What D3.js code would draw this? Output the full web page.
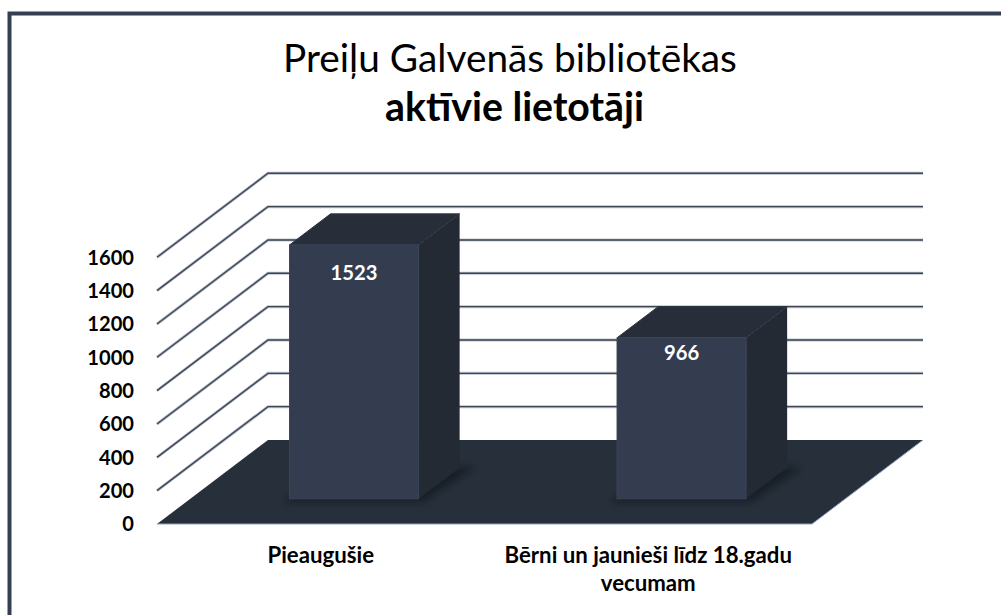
<!DOCTYPE html>
<html>
<head>
<meta charset="utf-8">
<script src="https://d3js.org/d3.v7.min.js"></script>
<style>
  body { margin: 0; background: #fff; }
  svg { display: block; }
</style>
</head>
<body>
<div id="chart"></div>
<script>
////////////////////////////////////////////////////////////////////////
// Data

let categories = ['Pieaugušie', 'Bērni un jaunieši līdz 18.gadu vecumam']
let values = [1523, 966]
let yTicks = [0, 200, 400, 600, 800, 1000, 1200, 1400, 1600]
let titleLines = ['Preiļu Galvenās bibliotēkas', 'aktīvie lietotāji']

////////////////////////////////////////////////////////////////////////
// svg and geometry

let width = 1001
let height = 615
let font = 'Lato, "Open Sans", sans-serif'

let svg = d3
  .select('#chart')
  .append('svg')
  .attr('width', width)
  .attr('height', height)

// front plane of the floor, plus how far the "3d" depth pushes things
let front = { left: 157, right: 812, bottom: 524, top: 257.3 }
let depthX = 111
let depthY = -84
let barDepth = [0.3, 0.67]

let xScale = d3
  .scaleBand()
  .domain(categories)
  .range([front.left, front.right])
  .paddingInner(0.606)
  .paddingOuter(0.303)

let yScale = d3
  .scaleLinear()
  .domain([0, 1600])
  .range([front.bottom, front.top])

// move a front-plane point back into the depth (t from 0 to 1)
function proj (x, y, t) {
  return [x + depthX * t, y + depthY * t]
}

function poly (pts) {
  return pts.map(p => p.join(',')).join(' ')
}

// pick a font size so the text comes out at the width seen in the picture
function fitSize (text, weight, target) {
  let t = svg
    .append('text')
    .attr('font-family', font)
    .attr('font-weight', weight)
    .attr('font-size', 100)
    .text(text)
  let w = t.node().getComputedTextLength()
  t.remove()
  return (100 * target) / w
}

let defs = svg.append('defs')
defs
  .append('filter')
  .attr('id', 'blur')
  .attr('x', '-20%')
  .attr('y', '-20%')
  .attr('width', '140%')
  .attr('height', '140%')
  .append('feGaussianBlur')
  .attr('stdDeviation', 3)

////////////////////////////////////////////////////////////////////////
// frame (only top and left edges are visible in the picture)

svg
  .append('rect')
  .attr('x', 9.5)
  .attr('y', 13.5)
  .attr('width', width + 20)
  .attr('height', height + 20)
  .attr('fill', 'none')
  .attr('stroke', '#353f51')
  .attr('stroke-width', 4)

////////////////////////////////////////////////////////////////////////
// title

let titleSize1 = fitSize(titleLines[0], 400, 454)
let titleSize2 = fitSize(titleLines[1], 700, 259)

svg
  .append('text')
  .attr('x', 510)
  .attr('y', 71.7)
  .attr('text-anchor', 'middle')
  .attr('font-family', font)
  .attr('font-size', titleSize1)
  .attr('fill', '#000')
  .text(titleLines[0])

svg
  .append('text')
  .attr('x', 514.5)
  .attr('y', 121)
  .attr('text-anchor', 'middle')
  .attr('font-family', font)
  .attr('font-weight', 700)
  .attr('font-size', titleSize2)
  .attr('fill', '#000')
  .text(titleLines[1])

////////////////////////////////////////////////////////////////////////
// floor

let floorPts = [
  proj(front.left, front.bottom, 0),
  proj(front.left, front.bottom, 1),
  proj(front.right, front.bottom, 1),
  proj(front.right, front.bottom, 0)
]

svg
  .append('polygon')
  .attr('points', poly(floorPts))
  .attr('fill', '#272f3a')

// thin light edge along the front and right of the floor
svg
  .append('path')
  .attr('d', d3.line()([floorPts[0], floorPts[3], floorPts[2]]))
  .attr('fill', 'none')
  .attr('stroke', '#8ea5c4')
  .attr('stroke-width', 1)

////////////////////////////////////////////////////////////////////////
// gridlines on the side wall and back wall

function gridPath (v) {
  let y = yScale(v)
  return d3.line()([
    proj(front.left, y, 0),
    proj(front.left, y, 1),
    proj(front.right, y, 1)
  ])
}

let grid = svg.append('g').attr('class', 'grid')

grid
  .selectAll('.gridhalo')
  .data(yTicks.filter(v => v > 0))
  .enter()
  .append('path')
  .attr('class', 'gridhalo')
  .attr('d', gridPath)
  .attr('fill', 'none')
  .attr('stroke', '#b9c0ca')
  .attr('stroke-width', 3)

grid
  .selectAll('.gridline')
  .data(yTicks.filter(v => v > 0))
  .enter()
  .append('path')
  .attr('class', 'gridline')
  .attr('d', gridPath)
  .attr('fill', 'none')
  .attr('stroke', '#3e4655')
  .attr('stroke-width', 1.4)

////////////////////////////////////////////////////////////////////////
// y axis labels

let tickSize = fitSize('1600', 700, 46.7)

svg
  .selectAll('.ylabel')
  .data(yTicks)
  .enter()
  .append('text')
  .attr('class', 'ylabel')
  .attr('x', 134)
  .attr('y', d => yScale(d))
  .attr('dy', '0.36em')
  .attr('text-anchor', 'end')
  .attr('font-family', font)
  .attr('font-weight', 700)
  .attr('font-size', tickSize)
  .attr('fill', '#000')
  .text(d => d)

////////////////////////////////////////////////////////////////////////
// bars

let bars = categories.map((c, i) => ({ cat: c, value: values[i] }))
let t0 = barDepth[0]
let t1 = barDepth[1]

let barG = svg
  .selectAll('.bar')
  .data(bars)
  .enter()
  .append('g')
  .attr('class', 'bar')

// soft shadow on the floor
barG
  .append('polygon')
  .attr('points', d => {
    let x0 = xScale(d.cat)
    let x1 = x0 + xScale.bandwidth()
    let yb = yScale(0)
    return poly([
      proj(x0 - 6, yb + 3, t0),
      proj(x1 + 4, yb + 3, t0),
      proj(x1 + 14, yb, t1),
      proj(x0 + 10, yb, t1)
    ])
  })
  .attr('fill', '#10141a')
  .attr('opacity', 0.65)
  .attr('filter', 'url(#blur)')

// side face
barG
  .append('polygon')
  .attr('points', d => {
    let x1 = xScale(d.cat) + xScale.bandwidth()
    let yt = yScale(d.value)
    let yb = yScale(0)
    return poly([proj(x1, yt, t0), proj(x1, yt, t1), proj(x1, yb, t1), proj(x1, yb, t0)])
  })
  .attr('fill', '#232a34')

// top face
barG
  .append('polygon')
  .attr('points', d => {
    let x0 = xScale(d.cat)
    let x1 = x0 + xScale.bandwidth()
    let yt = yScale(d.value)
    return poly([proj(x0, yt, t0), proj(x1, yt, t0), proj(x1, yt, t1), proj(x0, yt, t1)])
  })
  .attr('fill', '#272e39')
  .attr('stroke', '#2e3643')
  .attr('stroke-width', 1)

// front face
barG
  .append('rect')
  .attr('x', d => proj(xScale(d.cat), 0, t0)[0])
  .attr('y', d => proj(0, yScale(d.value), t0)[1])
  .attr('width', xScale.bandwidth())
  .attr('height', d => yScale(0) - yScale(d.value))
  .attr('fill', '#333d4f')
  .attr('stroke', '#3a4558')
  .attr('stroke-width', 1)

// value labels, placed near the top of the front face
let valueSize = fitSize('1523', 700, 47)

barG
  .append('text')
  .attr('x', d => proj(xScale(d.cat) + xScale.bandwidth() / 2, 0, t0)[0])
  .attr('y', d => proj(0, yScale(d.value * 0.86), t0)[1])
  .attr('text-anchor', 'middle')
  .attr('font-family', font)
  .attr('font-weight', 700)
  .attr('font-size', valueSize)
  .attr('fill', '#fff')
  .text(d => d.value)

////////////////////////////////////////////////////////////////////////
// category labels (wrapped)

let catSize = fitSize(categories[0], 700, 106.6)

function wrapWords (text, maxWidth) {
  let words = text.split(' ')
  let lines = []
  let line = ''
  let probe = svg
    .append('text')
    .attr('font-family', font)
    .attr('font-weight', 700)
    .attr('font-size', catSize)
  words.forEach(w => {
    let test = line ? line + ' ' + w : w
    probe.text(test)
    if (probe.node().getComputedTextLength() > maxWidth && line) {
      lines.push(line)
      line = w
    } else {
      line = test
    }
  })
  lines.push(line)
  probe.remove()
  return lines
}

svg
  .selectAll('.catlabel')
  .data(categories)
  .enter()
  .append('text')
  .attr('class', 'catlabel')
  .attr('text-anchor', 'middle')
  .attr('font-family', font)
  .attr('font-weight', 700)
  .attr('font-size', catSize)
  .attr('fill', '#000')
  .each(function (d) {
    let cx = xScale(d) + xScale.bandwidth() / 2
    let lines = wrapWords(d, 315)
    d3.select(this)
      .selectAll('tspan')
      .data(lines)
      .enter()
      .append('tspan')
      .attr('x', cx)
      .attr('y', (l, i) => 563 + i * 28)
      .text(l => l)
  })
</script>
</body>
</html>
